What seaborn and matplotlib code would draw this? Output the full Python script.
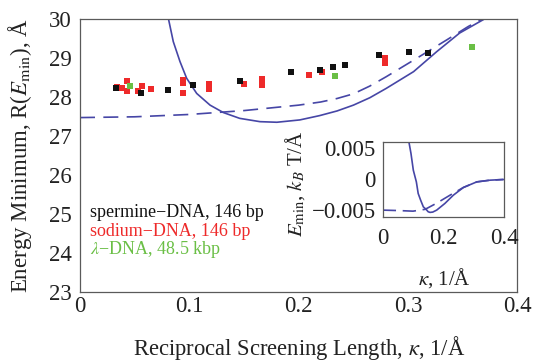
import matplotlib
matplotlib.use("Agg")
import matplotlib.pyplot as plt
import seaborn as sns
import pandas as pd

# ---------------- data ----------------
kappa_spermine = [0.033, 0.056, 0.080, 0.103, 0.146, 0.193, 0.219, 0.231, 0.242, 0.273, 0.301, 0.318]
R_spermine = [28.24, 28.11, 28.18, 28.32, 28.42, 28.65, 28.71, 28.79, 28.84, 29.09, 29.16, 29.15]

kappa_sodium = [0.034, 0.038, 0.043, 0.043, 0.053, 0.057, 0.065, 0.094, 0.094, 0.094,
                0.118, 0.118, 0.150, 0.166, 0.166, 0.209, 0.221, 0.279, 0.279]
R_sodium = [28.26, 28.24, 28.43, 28.17, 28.16, 28.29, 28.22, 28.45, 28.38, 28.12,
            28.33, 28.21, 28.35, 28.46, 28.32, 28.58, 28.64, 29.00, 28.88]

kappa_lambda = [0.046, 0.233, 0.358]
R_lambda = [28.29, 28.54, 29.30]

kappa_solid = [0.081, 0.0853, 0.0914, 0.0975, 0.1067, 0.1189, 0.131, 0.146, 0.1646, 0.180,
               0.201, 0.219, 0.235, 0.25, 0.265, 0.28, 0.305, 0.326, 0.347, 0.369]
R_solid = [30.0, 29.43, 28.92, 28.49, 28.10, 27.80, 27.61, 27.46, 27.375, 27.36,
           27.42, 27.53, 27.65, 27.80, 27.99, 28.23, 28.66, 29.17, 29.65, 30.0]

kappa_dashed = [0.0, 0.05, 0.10, 0.15, 0.20, 0.22, 0.235, 0.25, 0.265, 0.28, 0.31, 0.335, 0.355, 0.367]
R_dashed = [27.48, 27.50, 27.56, 27.66, 27.80, 27.88, 27.97, 28.09, 28.29, 28.53, 29.04, 29.47, 29.82, 30.0]

kin_solid = [0.0867, 0.0933, 0.101, 0.111, 0.117, 0.125, 0.134, 0.143, 0.150, 0.156, 0.165,
             0.178, 0.205, 0.233, 0.266, 0.31, 0.354, 0.398]
E_solid = [0.0060, 0.00417, 0.00146, -0.00044, -0.00232, -0.0034, -0.0045, -0.0049, -0.0053,
           -0.0054, -0.00535, -0.00503, -0.00395, -0.0026, -0.00135, -0.00044, -0.00016, -0.00005]
kin_dashed = [0.0, 0.05, 0.10, 0.14, 0.178, 0.222, 0.266, 0.31, 0.354, 0.398]
E_dashed = [-0.00503, -0.0051, -0.0052, -0.0049, -0.0039, -0.0026, -0.00135, -0.00044, -0.00016, -0.00005]

x_ticks = [0, 0.1, 0.2, 0.3, 0.4]
x_ticklabels = ["0", "0.1", "0.2", "0.3", "0.4"]
y_ticks = [23, 24, 25, 26, 27, 28, 29, 30]
in_x_ticks = [0, 0.2, 0.4]
in_x_ticklabels = ["0", "0.2", "0.4"]
in_y_ticks = [-0.005, 0, 0.005]
in_y_ticklabels = ["\u22120.005", "0", "0.005"]

legend_labels = ["spermine\u2212DNA, 146 bp", "sodium\u2212DNA, 146 bp", "$\\lambda$\u2212DNA, 48.5 kbp"]

# ---------------- style ----------------
sns.set_theme(style="white")
plt.rcParams["font.family"] = ["Liberation Serif", "DejaVu Serif"]
plt.rcParams["mathtext.fontset"] = "stix"
plt.rcParams["axes.unicode_minus"] = True

C_BLACK = "#111111"
C_RED = "#ee2a2a"
C_GREEN = "#6abf45"
C_CURVE = "#4646a6"
SPINE = "#5a5a5a"

fig = plt.figure(figsize=(5.33, 3.62), dpi=100)
ax = fig.add_axes([0.1501, 0.1934, 0.8208, 0.7528])

df_curve_s = pd.DataFrame({"k": kappa_solid, "R": R_solid})
df_curve_d = pd.DataFrame({"k": kappa_dashed, "R": R_dashed})
sns.lineplot(data=df_curve_s, x="k", y="R", ax=ax, color=C_CURVE, lw=1.2,
             sort=False, estimator=None)
sns.lineplot(data=df_curve_d, x="k", y="R", ax=ax, color=C_CURVE, lw=1.2,
             sort=False, estimator=None)
ax.lines[-1].set_dashes([9, 5])

for kx, ry, col in [(kappa_sodium, R_sodium, C_RED),
                    (kappa_spermine, R_spermine, C_BLACK),
                    (kappa_lambda, R_lambda, C_GREEN)]:
    sns.scatterplot(x=kx, y=ry, ax=ax, marker="s", s=16, color=col, linewidth=0, zorder=3)

ax.set_xlim(0, 0.4)
ax.set_ylim(23, 30)
ax.set_xticks(x_ticks)
ax.set_xticklabels(x_ticklabels)
ax.set_yticks(y_ticks)
ax.tick_params(axis="both", direction="in", length=4, width=0.8, color=SPINE,
               labelsize=16.5, labelcolor="#222222")
ax.tick_params(axis="x", pad=3)
ax.tick_params(axis="y", pad=6)
for sp in ax.spines.values():
    sp.set_color(SPINE)
    sp.set_linewidth(0.9)
ax.set_xlabel("Reciprocal Screening Length, $\\kappa$, 1/\u00c5", fontsize=16.3, labelpad=12, color="#222222")
ax.set_ylabel("Energy Minimum, R($E_{\\rm min}$), \u00c5", fontsize=16.5, labelpad=11, color="#222222")

for lab, col, yy in zip(legend_labels, [C_BLACK, C_RED, C_GREEN], [0.276, 0.2066, 0.138]):
    ax.text(0.0229, yy, lab, color=col, fontsize=13, transform=ax.transAxes, va="baseline", ha="left")

# ---------------- inset ----------------
axi = fig.add_axes([0.718, 0.4014, 0.2276, 0.2055])
axi.set_facecolor("white")
df_in_s = pd.DataFrame({"k": kin_solid, "E": E_solid})
df_in_d = pd.DataFrame({"k": kin_dashed, "E": E_dashed})
sns.lineplot(data=df_in_s, x="k", y="E", ax=axi, color=C_CURVE, lw=1.2, sort=False, estimator=None)
sns.lineplot(data=df_in_d, x="k", y="E", ax=axi, color=C_CURVE, lw=1.2, sort=False, estimator=None)
axi.lines[-1].set_dashes([8, 4])
axi.set_xlim(0, 0.4)
axi.set_ylim(-0.0061, 0.0060)
axi.set_xticks(in_x_ticks)
axi.set_xticklabels(in_x_ticklabels)
axi.set_yticks(in_y_ticks)
axi.set_yticklabels(in_y_ticklabels)
axi.tick_params(axis="both", direction="in", length=3.5, width=0.8, color=SPINE,
                labelsize=16.5, labelcolor="#222222")
axi.tick_params(axis="x", pad=8)
axi.tick_params(axis="y", pad=5)
for sp in axi.spines.values():
    sp.set_color(SPINE)
    sp.set_linewidth(0.9)
axi.set_xlabel("$\\kappa$, 1/\u00c5", fontsize=15, color="#222222")
axi.set_ylabel("$E_{\\rm min}$, $k_B$ T/\u00c5", fontsize=15, color="#222222")
axi.xaxis.set_label_coords(0.505, -0.66)
axi.yaxis.set_label_coords(-0.62, 0.45)

fig.savefig("out.png", dpi=100)
